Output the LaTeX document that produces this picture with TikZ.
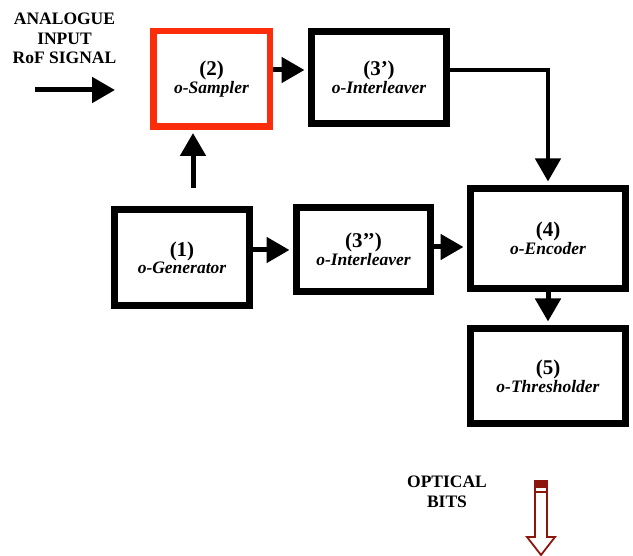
\documentclass[tikz,border=0pt]{standalone}
\usepackage{fontspec}
\setmainfont{Liberation Serif}
\usetikzlibrary{arrows.meta}
\definecolor{boxred}{RGB}{252,45,10}
\definecolor{darkred}{RGB}{140,22,12}
\newcommand{\numtxt}[1]{{\fontsize{21}{22}\selectfont #1}}
\newcommand{\nametxt}[1]{{\fontsize{17.5}{20}\selectfont\itshape #1}}
\tikzset{
  blk/.style={draw=black, line width=7pt, fill=white, align=center, inner sep=0pt,
    font=\bfseries},
  redblk/.style={blk, draw=boxred, line width=6.5pt},
  arr/.style={line width=5pt, -{Triangle[length=23pt, width=25pt]}},
  lbl/.style={align=center, inner sep=0pt, font=\fontsize{17.5}{19.5}\selectfont\bfseries}
}
\begin{document}
\begin{tikzpicture}[x=1pt, y=-1pt]
\useasboundingbox (0,0) rectangle (633,556);

\node[lbl] (inlbl) at (64.5,38.5) {ANALOGUE\\INPUT\\RoF SIGNAL};
\node[lbl] (outlbl) at (447,492) {OPTICAL\\BITS};

\node[redblk, minimum width=116.5pt, minimum height=95.5pt] (b2) at (211.5,79) {\numtxt{(2)}\\\nametxt{o-Sampler}};
\node[blk, minimum width=135pt, minimum height=92pt] (b3a) at (379,77.5) {\numtxt{(3’)}\\\nametxt{o-Interleaver}};
\node[blk, minimum width=135pt, minimum height=96pt] (b1) at (182,257.5) {\numtxt{(1)}\\\nametxt{o-Generator}};
\node[blk, minimum width=134pt, minimum height=84pt] (b3b) at (363.5,249.5) {\numtxt{(3’’)}\\\nametxt{o-Interleaver}};
\node[blk, minimum width=155pt, minimum height=100pt] (b4) at (548,238.5) {\numtxt{(4)}\\\nametxt{o-Encoder}};
\node[blk, minimum width=155pt, minimum height=95pt] (b5) at (548,376) {\numtxt{(5)}\\\nametxt{o-Thresholder}};

\coordinate (inS) at (35,90);
\coordinate (inE) at (115,90);
\coordinate (upS) at (193,188);

\draw[arr] (inS) -- (inE);
\draw[arr, shorten >=3pt] (upS) -- (upS |- b2.south);
\draw[arr, shorten >=3.5pt] (b2.east |- 0,70) -- (b3a.west |- 0,70);
\draw[arr, line width=4.5pt, shorten >=3.5pt] (b3a.east |- 0,70) -| (b4.north);
\draw[arr, shorten >=3.5pt] (b1.east |- 0,250) -- (b3b.west |- 0,250);
\draw[arr, shorten >=3.5pt] (b3b.east |- 0,247) -- (b4.west |- 0,247);
\draw[arr, shorten >=3.5pt] (b4.south) -- (b5.north);

% hollow optical bits arrow
\draw[draw=darkred, fill=white, line width=1.8pt, line join=miter]
  (535,481) -- (547,481) -- (547,537) -- (555,537) -- (541,555) -- (527,537) -- (535,537) -- cycle;
\fill[darkred] (535,481) rectangle (547,488.5);
\fill[darkred] (535,491) rectangle (547,493.5);
\end{tikzpicture}
\end{document}
